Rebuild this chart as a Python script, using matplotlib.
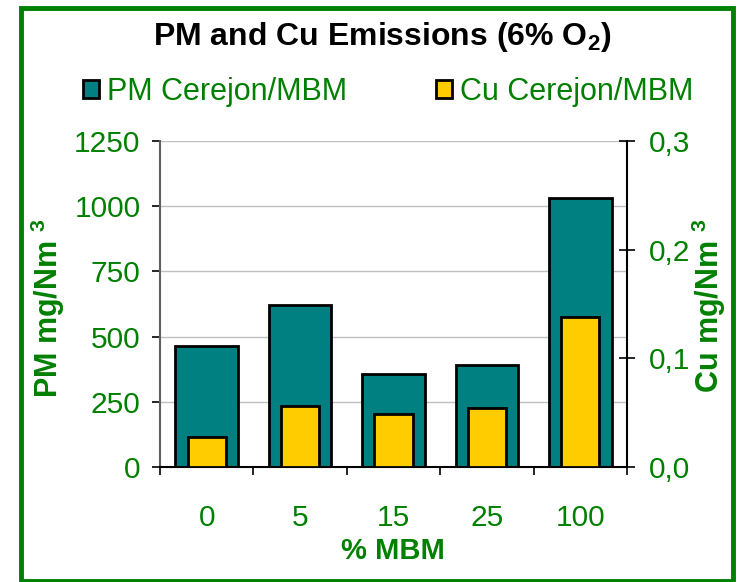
import matplotlib
matplotlib.use("Agg")
import matplotlib.pyplot as plt
from matplotlib.patches import Rectangle, Patch

# valores
categories = ["0", "5", "15", "25", "100"]
pm_values = [465, 623, 358, 390, 1030]
cu_values = [0.028, 0.056, 0.049, 0.054, 0.138]
pm_ticks = [0, 250, 500, 750, 1000, 1250]
cu_ticks = [0.0, 0.1, 0.2, 0.3]
cu_tick_labels = ["0,0", "0,1", "0,2", "0,3"]
legend_labels = ["PM Cerejon/MBM", "Cu Cerejon/MBM"]

green = "#008000"
teal = "#008080"
yellow = "#FFCC00"

plt.rcParams["font.family"] = ["Liberation Sans", "DejaVu Sans"]
plt.rcParams["mathtext.fontset"] = "custom"
plt.rcParams["mathtext.rm"] = "Liberation Sans"
plt.rcParams["mathtext.bf"] = "Liberation Sans:bold"

fig = plt.figure(figsize=(7.38, 5.82), dpi=100)
ax = fig.add_axes([160 / 738, 1 - 467 / 582, 467 / 738, 326 / 582])
ax2 = ax.twinx()

x = list(range(len(categories)))
ax.bar(x, pm_values, width=0.67, color=teal, edgecolor="black", linewidth=2, zorder=2)
ax2.bar(x, cu_values, width=0.41, color=yellow, edgecolor="black", linewidth=2)

ax.set_xlim(-0.5, len(categories) - 0.5)
ax.set_ylim(0, 1250)
ax2.set_ylim(0, 0.3)

ax.set_axisbelow(True)
ax.yaxis.grid(True, color="#c0c0c0", linewidth=1)

# ejes
for s in ["top", "right"]:
    ax.spines[s].set_visible(False)
for s in ["top", "left", "bottom"]:
    ax2.spines[s].set_visible(False)
ax.spines["left"].set_color("#606060")
ax.spines["left"].set_linewidth(1.5)
ax.spines["bottom"].set_linewidth(1.5)
ax2.spines["right"].set_linewidth(1.5)

ax.set_yticks(pm_ticks)
ax.tick_params(axis="y", direction="out", length=6, width=1.2, colors="black",
               labelcolor=green, labelsize=21.5, pad=8)
ax.set_xticks(x)
ax.set_xticklabels(categories)
ax.tick_params(axis="x", which="major", length=0, labelcolor=green, labelsize=21.5, pad=27)
ax.set_xticks([i - 0.5 for i in range(len(categories) + 1)], minor=True)
ax.tick_params(axis="x", which="minor", direction="out", length=6, width=1.2)

ax2.set_yticks(cu_ticks)
ax2.set_yticklabels(cu_tick_labels)
ax2.tick_params(axis="y", direction="inout", length=12, width=1.2,
                labelcolor=green, labelsize=21.5, pad=10)

fig.text(393 / 738, 1 - 551 / 582, "% MBM", ha="center", va="center",
         fontsize=21, weight="bold", color=green)
fig.text(48 / 738, 1 - 308 / 582, "PM mg/Nm $^\\mathbf{3}$", ha="center", va="center",
         rotation=90, fontsize=22, weight="bold", color=green)
fig.text(709 / 738, 1 - 306 / 582, "Cu mg/Nm $^\\mathbf{3}$", ha="center", va="center",
         rotation=90, fontsize=22, weight="bold", color=green)

fig.text(382 / 738, 1 - 37 / 582, "PM and Cu Emissions (6% O$_\\mathbf{2}$)", ha="center",
         va="center", fontsize=23, weight="bold", color="black")

handles = [Patch(facecolor=teal, edgecolor="black", linewidth=2),
           Patch(facecolor=yellow, edgecolor="black", linewidth=2)]
fig.legend(handles, legend_labels, loc="center", bbox_to_anchor=(388 / 738, 1 - 92 / 582),
           ncol=2, frameon=False, fontsize=22, labelcolor=green,
           handlelength=0.55, handleheight=0.55, handletextpad=0.25, columnspacing=2.9)

# marco verde
fig.add_artist(Rectangle((21 / 738, 0.002), (733 - 21) / 738, 1 - 8 / 582 - 0.002,
                         transform=fig.transFigure, fill=False, edgecolor=green, linewidth=3.5))

fig.savefig("out.png", dpi=100)
